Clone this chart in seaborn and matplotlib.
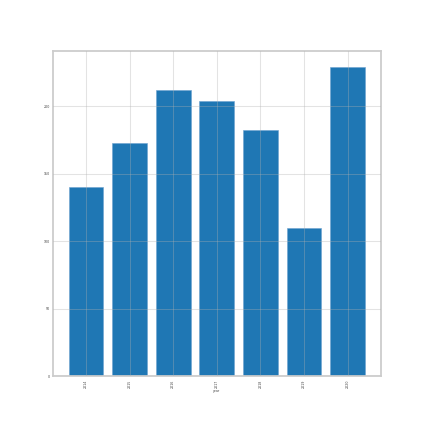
import matplotlib

matplotlib.use("Agg")

import matplotlib.pyplot as plt
import pandas as pd
import seaborn as sns


YEARS = ["2014", "2015", "2016", "2017", "2018", "2019", "2020"]
COUNTS = [140, 173, 212, 204, 182, 110, 229]

DPI = 423 / 20


def main():
    sns.set_style("whitegrid")
    df = pd.DataFrame({"year": YEARS, "count": COUNTS})

    fig, ax = plt.subplots(figsize=(20, 20), dpi=DPI)
    sns.barplot(
        data=df,
        x="year",
        y="count",
        color="#1f77b4",
        saturation=1,
        width=0.8,
        edgecolor="#6fa3cf",
        linewidth=2,
        ax=ax,
    )
    ax.set_xlim(-0.76, 6.76)
    ax.set_ylim(0, 241)
    # grid drawn over the bars, faint
    ax.set_axisbelow(False)
    ax.grid(True, color="#b0b0b0", linewidth=3.5, alpha=0.35)
    for s in ax.spines.values():
        s.set_color("#cccccc")
        s.set_linewidth(6)
    ax.tick_params(axis="both", labelsize=11, colors="#444444", length=6, width=2)
    plt.setp(ax.get_xticklabels(), rotation=90)
    ax.set_xlabel("year", fontsize=11, color="#444444")
    ax.set_ylabel("")
    fig.savefig("out.png", dpi=DPI)
    plt.close(fig)


if __name__ == "__main__":
    main()
